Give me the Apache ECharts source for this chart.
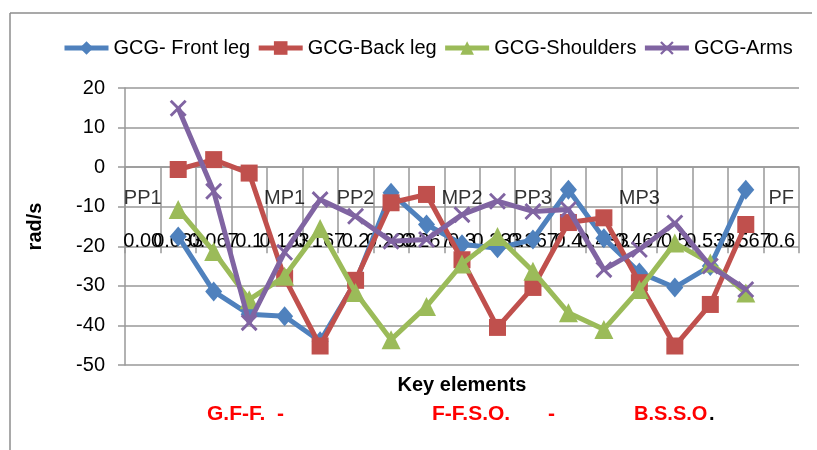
<!DOCTYPE html>
<html>
<head>
<meta charset="utf-8">
<script src="https://cdn.jsdelivr.net/npm/echarts@6/dist/echarts.min.js"></script>
<style>
html,body{margin:0;padding:0;background:#fff;}
#chart{width:817px;height:450px;}
</style>
</head>
<body>
<div id="chart"></div>
<script>
var categories = ["0.00","0.033","0.067","0.1","0.133","0.167","0.2","0.233","0.267","0.3","0.333","0.367","0.4","0.433","0.467","0.5","0.533","0.567","0.6"];
var frontLeg  = [null,-17.5,-31.4,-37.2,-37.7,-44,-29,-6.5,-14.5,-19.5,-20.5,-18.3,-5.7,-18,-26.6,-30.4,-25,-5.7,null];
var backLeg   = [null,-0.6,1.9,-1.5,-28,-45.2,-28.6,-9,-6.9,-23.4,-40.5,-30.4,-14,-12.8,-29.2,-45.2,-34.7,-14.5,null];
var shoulders = [null,-10.7,-21.3,-33.5,-27.6,-15.5,-31.7,-43.6,-35.2,-24.5,-17.5,-26.3,-36.8,-41,-30.9,-19.2,-24.2,-31.8,null];
var arms      = [null,14.9,-6.1,-39.3,-21.5,-8.2,-12.4,-18.7,-18.3,-12,-8.6,-11.2,-10.7,-25.9,-20.8,-14.1,-25,-30.9,null];
var phaseNames = ["PP1","MP1","PP2","MP2","PP3","MP3","PF"];
var phaseCats  = [0,4,6,9,11,14,18];
var phaseLevel = -7.8;
var yTicks = {min:-50, max:20, interval:10};
var xAxisCross = 0;

var FONT = '"Liberation Sans", Arial, sans-serif';
var xPath = 'path://M0,1.2 L1.2,0 L10,8.8 L8.8,10 Z M8.8,0 L10,1.2 L1.2,10 L0,8.8 Z';

var phaseData = phaseNames.map(function(n,i){ return {name:n, value:[phaseCats[i], phaseLevel]}; });

var gridTop = 88, gridBottom = 85, H = 450;
var plotH = H - gridTop - gridBottom;
// offset that lifts the category axis from the bottom edge up to the value xAxisCross
var crossOffset = -plotH * (xAxisCross - yTicks.min) / (yTicks.max - yTicks.min);

var chart = echarts.init(document.getElementById('chart'));
chart.setOption({
  animation:false,
  backgroundColor:'#fff',
  textStyle:{fontFamily:FONT},
  legend:{
    data:['GCG- Front leg','GCG-Back leg','GCG-Shoulders','GCG-Arms'],
    left:57, top:33, itemWidth:44, itemHeight:17, itemGap:6,
    lineStyle:{width:5},
    textStyle:{fontSize:20, color:'#000', fontFamily:FONT}
  },
  grid:{left:125, right:18, top:gridTop, bottom:gridBottom, containLabel:false, outerBoundsMode:'none'},
  xAxis:{
    type:'category', data:categories, boundaryGap:true, position:'bottom', offset:crossOffset,
    name:'Key elements', nameLocation:'middle', nameGap:208,
    nameTextStyle:{fontSize:20, fontWeight:'bold', color:'#000', fontFamily:FONT},
    axisLine:{show:true, onZero:false, lineStyle:{color:'#999', width:1.5}},
    axisTick:{show:true, interval:0, length:86, inside:false, lineStyle:{color:'#999', width:1.5}},
    axisLabel:{interval:0, margin:64, fontSize:20, color:'#000', fontFamily:FONT, hideOverlap:false},
    splitLine:{show:false}
  },
  yAxis:{
    type:'value', min:yTicks.min, max:yTicks.max, interval:yTicks.interval,
    name:'rad/s', nameLocation:'middle', nameGap:80, nameRotate:90,
    nameTextStyle:{fontSize:20, fontWeight:'bold', color:'#000', fontFamily:FONT},
    axisLine:{show:true, lineStyle:{color:'#999', width:1.5}},
    axisTick:{show:true, length:7, lineStyle:{color:'#999', width:1.5}},
    axisLabel:{fontSize:20, color:'#000', margin:20, fontFamily:FONT, showMaxLabel:true, showMinLabel:true},
    splitLine:{show:true, lineStyle:{color:'#999', width:1.5}}
  },
  series:[
    {name:'GCG- Front leg', type:'line', data:frontLeg, color:'#4F81BD',
     symbol:'diamond', symbolSize:[17,20], lineStyle:{width:5}, z:3},
    {name:'GCG-Back leg', type:'line', data:backLeg, color:'#C0504D',
     symbol:'rect', symbolSize:17, lineStyle:{width:5}, z:4},
    {name:'GCG-Shoulders', type:'line', data:shoulders, color:'#9BBB59',
     symbol:'triangle', symbolSize:19, lineStyle:{width:5}, z:5},
    {name:'GCG-Arms', type:'line', data:arms, color:'#8064A2',
     symbol:xPath, symbolSize:17, lineStyle:{width:5}, z:6},
    {name:'phases', type:'scatter', data:phaseData, symbolSize:0, silent:true, z:10,
     label:{show:true, position:'inside', formatter:'{b}', fontSize:20, color:'#000', fontFamily:FONT}}
  ],
  graphic:[
    {type:'line', shape:{x1:10, y1:13, x2:812, y2:13}, style:{stroke:'#8c8c8c', lineWidth:1.5}},
    {type:'line', shape:{x1:10, y1:13, x2:10, y2:450}, style:{stroke:'#8c8c8c', lineWidth:1.5}},
    {type:'text', left:207, top:404, style:{text:'G.F-F.  -', fill:'#ff0000', font:'bold 21px '+FONT}},
    {type:'text', left:432, top:404, style:{text:'F-F.S.O.', fill:'#ff0000', font:'bold 21px '+FONT}},
    {type:'text', left:548, top:404, style:{text:'-', fill:'#ff0000', font:'bold 21px '+FONT}},
    {type:'text', left:634, top:404, style:{text:'B.S.S.O', fill:'#ff0000', font:'bold 20px '+FONT}},
    {type:'text', left:709, top:404, style:{text:'.', fill:'#000', font:'bold 20px '+FONT}}
  ]
});
</script>
</body>
</html>
